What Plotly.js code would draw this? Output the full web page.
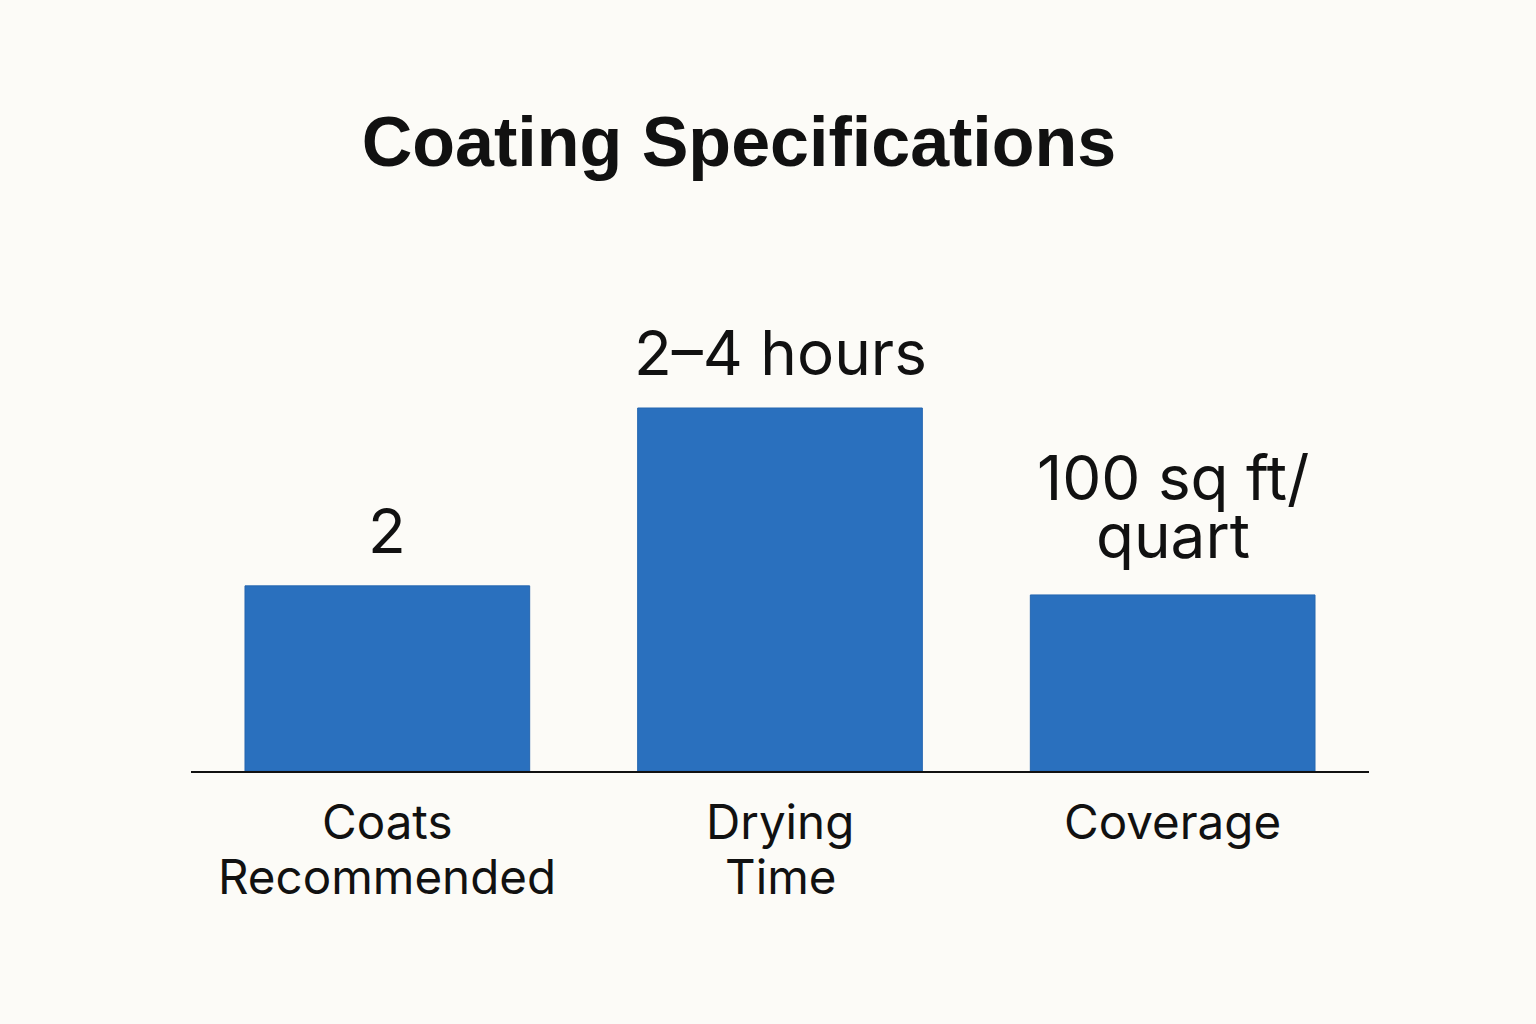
<!DOCTYPE html>
<html>
<head>
<meta charset="utf-8">
<script src="https://cdn.plot.ly/plotly-3.0.1.min.js"></script>
<style>
  html, body { margin: 0; padding: 0; background: #FCFBF7; }
  #chart { width: 1536px; height: 1024px; }
</style>
</head>
<body>
<div id="chart"></div>
<script>
// ---- data ----
const categories = ["Coats Recommended", "Drying Time", "Coverage"];
const categoryLines = [["Coats", "Recommended"], ["Drying", "Time"], ["Coverage"]];
const values = [2.04, 4.0, 1.94];
const valueLabelLines = [["2"], ["2\u20134 hours"], ["100 sq ft/", "quart"]];
const chartTitle = "Coating Specifications";

// ---- styles ----
const barColor = "#2A70BE";
const bg = "#FCFBF7";
const labelFont = "Inter, 'Liberation Sans', Arial, sans-serif";

const annotations = [];
// value labels (one annotation per line, stacked upward)
valueLabelLines.forEach((lines, i) => {
  const n = lines.length;
  lines.forEach((txt, j) => {
    annotations.push({
      x: categories[i], y: values[i], xref: "x", yref: "y",
      text: txt, showarrow: false, xanchor: "center", yanchor: "bottom",
      yshift: (n > 1 ? 20 : 16) + (n - 1 - j) * 58,
      font: { family: labelFont, size: 62, color: "#111111" }
    });
  });
});
// category labels
categoryLines.forEach((lines, i) => {
  lines.forEach((txt, j) => {
    annotations.push({
      x: categories[i], y: 0, xref: "x", yref: "paper",
      text: txt, showarrow: false, xanchor: "center", yanchor: "top",
      yshift: -20 - j * 55,
      font: { family: labelFont, size: 47.5, color: "#111111" }
    });
  });
});

const trace = {
  type: "bar",
  x: categories,
  y: values,
  marker: { color: barColor, line: { color: "#2566B0", width: 1 } },
  hoverinfo: "none"
};

const layout = {
  width: 1536, height: 1024,
  paper_bgcolor: bg, plot_bgcolor: bg,
  margin: { l: 191, r: 167, t: 300, b: 253 },
  title: {
    text: chartTitle,
    x: 739 / 1536, xanchor: "center", xref: "container",
    y: 1 - 141 / 1024, yanchor: "middle", yref: "container",
    font: { family: "'Liberation Sans', Arial, sans-serif", size: 70, color: "#111111", weight: 700 }
  },
  bargap: 0.275,
  showlegend: false,
  xaxis: {
    showticklabels: false, ticks: "", showgrid: false, zeroline: false,
    showline: true, linecolor: "#111111", linewidth: 2, fixedrange: true
  },
  yaxis: {
    range: [0, 4 * 471 / 363], visible: false, showgrid: false, zeroline: false, fixedrange: true
  },
  annotations: annotations
};

Plotly.newPlot("chart", [trace], layout, { displayModeBar: false, staticPlot: true });
</script>
</body>
</html>
